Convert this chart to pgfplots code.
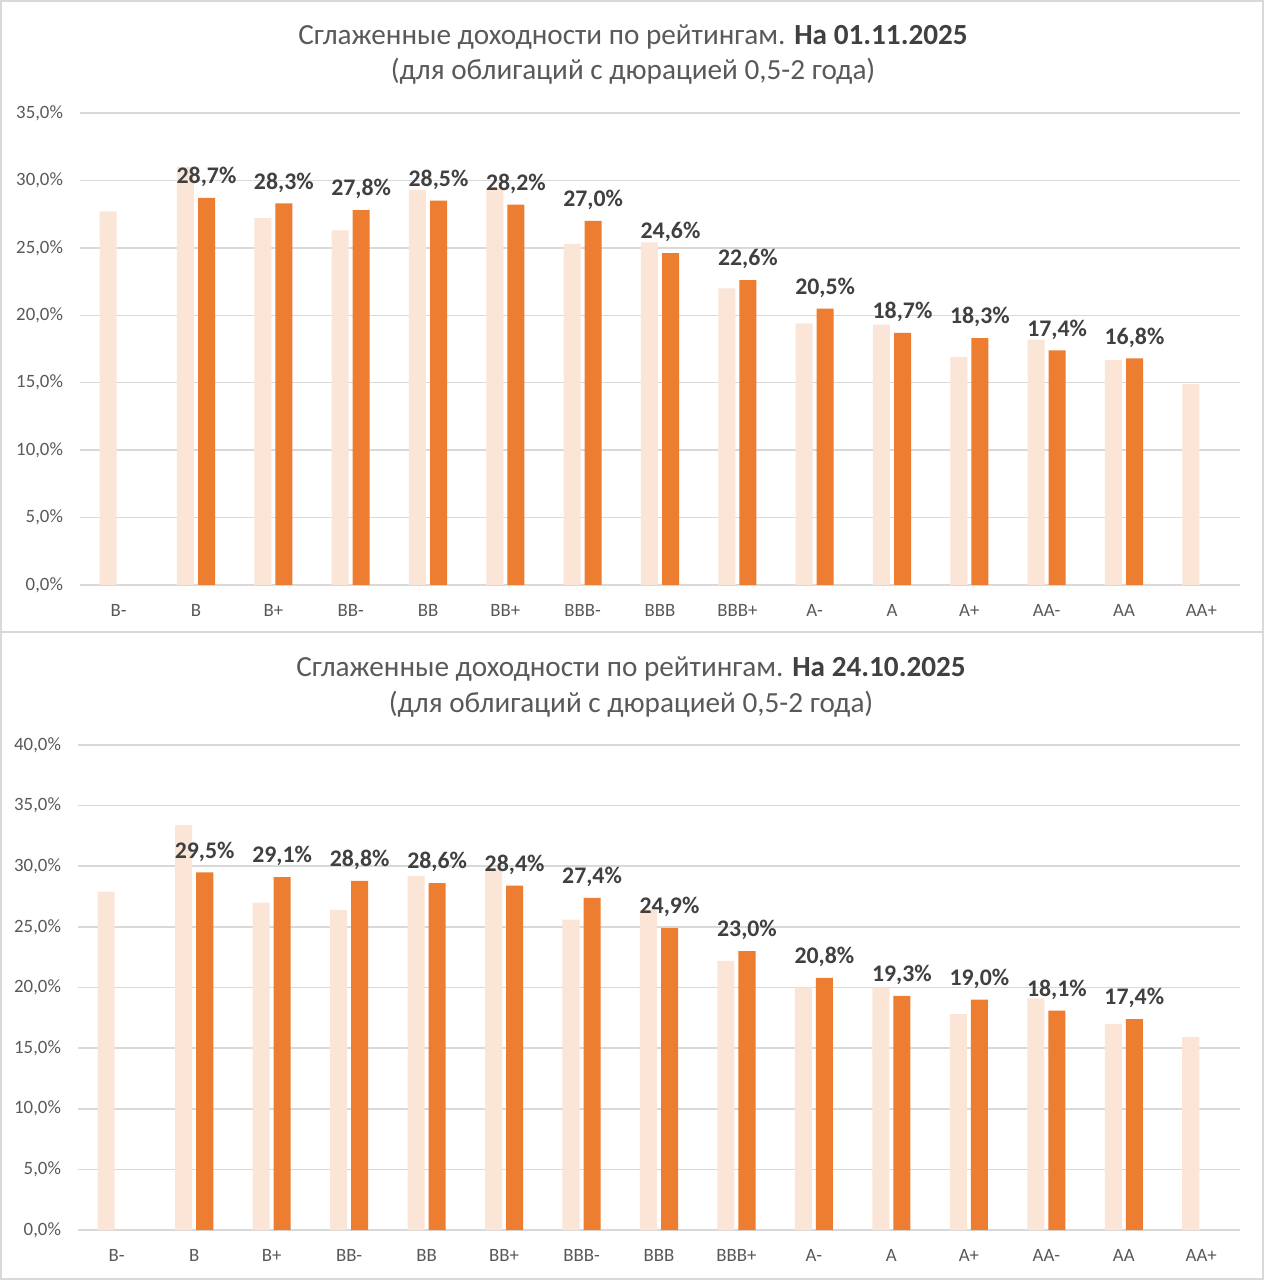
\documentclass[border=0pt]{standalone}
\usepackage{fontspec}
\setmainfont{Carlito}
\usepackage{pgfplots}
\pgfplotsset{compat=1.18}
\definecolor{light}{HTML}{FBE5D6}
\definecolor{dark}{HTML}{ED7D31}
\definecolor{lbl}{HTML}{404040}
\definecolor{tck}{HTML}{595959}
\definecolor{grd}{HTML}{D9D9D9}
\pgfplotsset{mystyle/.style={
  scale only axis, anchor=south west,
  xmin=-0.5, xmax=14.5, ymin=0,
  xtick={0,...,14},
  xticklabels={B-,B,B+,BB-,BB,BB+,BBB-,BBB,BBB+,A-,A,A+,AA-,AA,AA+},
  ytick distance=5,
  ymajorgrids, grid style={grd, line width=0.75pt},
  axis line style={draw=none},
  major tick style={draw=none},
  ticklabel style={font=\fontsize{9.4}{11}\selectfont, text=tck},
  xticklabel style={yshift=-6pt},
  yticklabel style={xshift=-5pt},
  /pgf/number format/assume math mode=true,
  yticklabel={\pgfmathprintnumber[fixed,fixed zerofill,precision=1,use comma]{\tick}\%},
  clip=false,
},
lightbar/.style={ybar, bar width=0.22, bar shift=-0.136, fill=light, draw=none},
darkbar/.style={ybar, bar width=0.22, bar shift=0.136, fill=dark, draw=none,
  point meta=y, nodes near coords={\pgfmathprintnumber[fixed,fixed zerofill,precision=1,use comma]{\pgfplotspointmeta}\%},
  nodes near coords style={font=\bfseries\fontsize{11.9}{13}\selectfont, text=lbl, yshift=2pt, xshift=5.25pt}},
}
\begin{document}
\begin{tikzpicture}
\path (0,0) rectangle (632pt,640pt);
\draw[grd, line width=1.2pt] (0.6pt,0.6pt) rectangle (631.4pt,639.4pt);
\draw[grd, line width=1.2pt] (0.6pt,324pt) -- (631.4pt,324pt);
\node[font=\fontsize{14.6}{16}\selectfont, text=tck] at (316.5pt,621.5pt) {Сглаженные доходности по рейтингам. \textbf{\color{lbl}На 01.11.2025}};
\node[font=\fontsize{14.6}{16}\selectfont, text=tck] at (316.5pt,604.5pt) {(для облигаций с дюрацией 0,5-2 года)};
\begin{axis}[mystyle, at={(40pt,347.5pt)}, width=580pt, height=236pt, ymax=35]
\addplot[lightbar] coordinates {(0,27.7) (1,31.0) (2,27.2) (3,26.3) (4,29.3) (5,29.4) (6,25.3) (7,25.4) (8,22.0) (9,19.4) (10,19.3) (11,16.9) (12,18.2) (13,16.7) (14,14.9)};
\addplot[darkbar] coordinates {(1,28.7) (2,28.3) (3,27.8) (4,28.5) (5,28.2) (6,27.0) (7,24.6) (8,22.6) (9,20.5) (10,18.7) (11,18.3) (12,17.4) (13,16.8)};
\end{axis}
\node[font=\fontsize{14.6}{16}\selectfont, text=tck] at (315.5pt,305.5pt) {Сглаженные доходности по рейтингам. \textbf{\color{lbl}На 24.10.2025}};
\node[font=\fontsize{14.6}{16}\selectfont, text=tck] at (315.5pt,288pt) {(для облигаций с дюрацией 0,5-2 года)};
\begin{axis}[mystyle, at={(39pt,25pt)}, width=581pt, height=242.5pt, ymax=40]
\addplot[lightbar] coordinates {(0,27.9) (1,33.4) (2,27.0) (3,26.4) (4,29.2) (5,29.8) (6,25.6) (7,26.4) (8,22.2) (9,20.0) (10,20.0) (11,17.8) (12,19.1) (13,17.0) (14,15.9)};
\addplot[darkbar] coordinates {(1,29.5) (2,29.1) (3,28.8) (4,28.6) (5,28.4) (6,27.4) (7,24.9) (8,23.0) (9,20.8) (10,19.3) (11,19.0) (12,18.1) (13,17.4)};
\end{axis}
\end{tikzpicture}
\end{document}
